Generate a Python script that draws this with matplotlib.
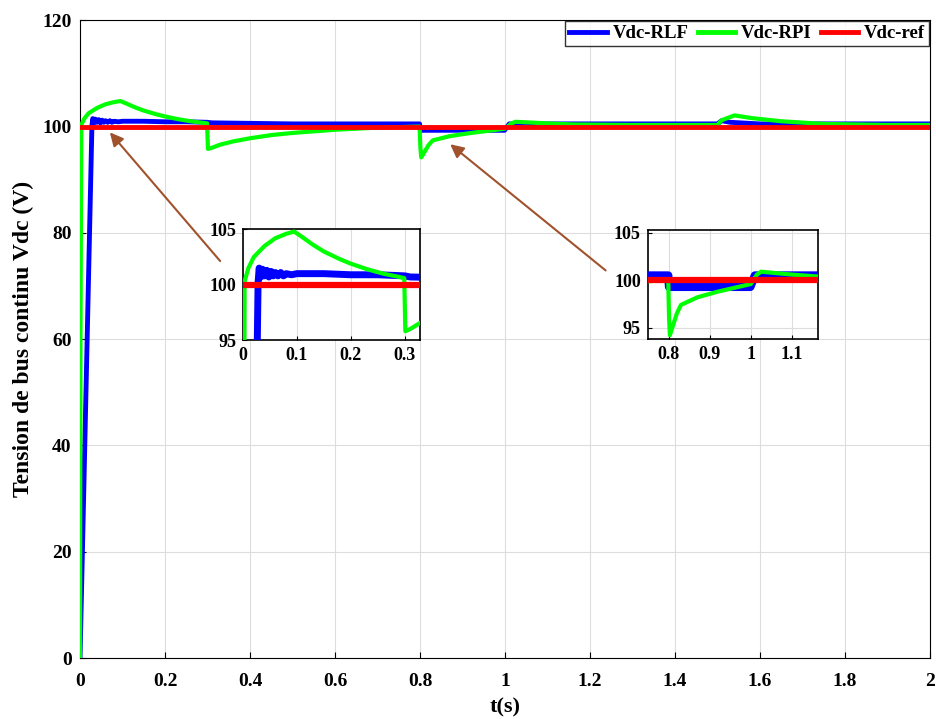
import numpy as np
import matplotlib
matplotlib.use('Agg')
import matplotlib.pyplot as plt

plt.rcParams['font.family'] = ['Liberation Serif', 'DejaVu Serif']
plt.rcParams['font.weight'] = 'bold'

# Reference voltage
t_ref = [0, 2.0]
v_ref = [100, 100]

# Vdc with PI regulator (green)
t_rpi = [0, 0.001, 0.003, 0.01, 0.02, 0.04, 0.06, 0.08, 0.095, 0.11, 0.13, 0.15,
         0.18, 0.2, 0.23, 0.26, 0.29, 0.299, 0.301, 0.31, 0.33, 0.36, 0.4, 0.45,
         0.5, 0.6, 0.7, 0.799, 0.801, 0.803, 0.82, 0.83, 0.87, 0.92, 0.97, 1.0,
         1.015, 1.025, 1.05, 1.1, 1.16, 1.3, 1.5, 1.51, 1.54, 1.58, 1.65, 1.75,
         1.9, 2.0]
v_rpi = [0, 60, 100.3, 101.5, 102.5, 103.5, 104.2, 104.6, 104.8, 104.3, 103.6, 103.0,
         102.3, 101.9, 101.4, 101.0, 100.7, 100.6, 95.8, 96.0, 96.6, 97.2, 97.8, 98.4,
         98.8, 99.4, 99.8, 100.0, 96.0, 94.2, 96.5, 97.4, 98.2, 98.8, 99.3, 99.6,
         100.6, 100.9, 100.8, 100.6, 100.4, 100.3, 100.3, 101.2, 102.1, 101.6, 101.0, 100.5,
         100.3, 100.3]

# Vdc with RLF regulator (blue)
t_rlf = [0, 0.028, 0.03, 0.033, 0.036, 0.04, 0.044, 0.048, 0.052, 0.056, 0.06,
         0.065, 0.07, 0.075, 0.08, 0.09, 0.1, 0.12, 0.15, 0.2, 0.25, 0.3, 0.31,
         0.5, 0.799, 0.801, 0.9, 0.999, 1.01, 1.2, 1.5, 1.51, 1.53, 1.6, 2.0]
v_rlf = [0, 100.2, 101.5, 100.7, 101.4, 100.8, 101.3, 100.7, 101.2, 100.8, 101.1,
         100.8, 101.1, 100.8, 101.0, 100.9, 101.0, 101.0, 101.0, 100.9, 100.9, 100.8, 100.7,
         100.5, 100.5, 99.3, 99.3, 99.3, 100.5, 100.5, 100.5, 101.1, 100.8, 100.5, 100.5]

c_rlf = '#0000ff'
c_rpi = '#00ff00'
c_ref = '#ff0000'
arrow_col = '#a0522d'

fig = plt.figure(figsize=(9.36, 7.19), dpi=100)
ax = fig.add_axes([0.0855, 0.0848, 0.908, 0.887])

ax.plot(t_rlf, v_rlf, color=c_rlf, lw=3.5, label='Vdc-RLF', zorder=3)
ax.plot(t_rpi, v_rpi, color=c_rpi, lw=3.0, label='Vdc-RPI', zorder=4)
ax.plot(t_ref, v_ref, color=c_ref, lw=3.5, label='Vdc-ref', zorder=5)

ax.set_xlim(0, 2)
ax.set_ylim(0, 120)
ax.set_xticks(np.arange(0, 2.01, 0.2))
ax.set_xticklabels(['0', '0.2', '0.4', '0.6', '0.8', '1', '1.2', '1.4', '1.6', '1.8', '2'])
ax.set_yticks(np.arange(0, 121, 20))
ax.tick_params(labelsize=14, direction='in', length=4)
ax.tick_params(axis='x', pad=11)
ax.tick_params(axis='y', pad=6)
ax.grid(True, color='#dddddd', lw=0.8)
ax.set_axisbelow(True)
ax.set_xlabel('t(s)', fontsize=16, fontweight='bold', labelpad=5)
ax.set_ylabel('Tension de bus continu Vdc (V)', fontsize=17, fontweight='bold', labelpad=6)

leg = ax.legend(loc='upper right', ncol=3, fontsize=13.5, frameon=True, fancybox=False,
                borderaxespad=0.05, handlelength=2.0, columnspacing=0.5,
                handletextpad=0.3, borderpad=0.2)
leg.get_frame().set_edgecolor('black')
leg.get_frame().set_linewidth(1.0)
for lh in leg.get_lines():
    lh.set_linewidth(3.5)

# arrows towards the zoomed regions
ax.annotate('', xy=(0.066, 99.3), xytext=(0.334, 74.3),
            arrowprops=dict(arrowstyle='-|>', color=arrow_col, lw=1.5, mutation_scale=20))
ax.annotate('', xy=(0.866, 97.0), xytext=(1.242, 72.6),
            arrowprops=dict(arrowstyle='-|>', color=arrow_col, lw=1.5, mutation_scale=20))

# inset 1: start-up
ins1 = fig.add_axes([0.2596, 0.527, 0.189, 0.154])
ins1.plot(t_rlf, v_rlf, color=c_rlf, lw=5, zorder=3)
ins1.plot(t_rpi, v_rpi, color=c_rpi, lw=3, zorder=4)
ins1.plot(t_ref, v_ref, color=c_ref, lw=4.5, zorder=5)
ins1.set_xlim(0, 0.328)
ins1.set_ylim(95, 105)
ins1.set_xticks([0, 0.1, 0.2, 0.3])
ins1.set_xticklabels(['0', '0.1', '0.2', '0.3'])
ins1.set_yticks([95, 100, 105])

# inset 2: load change
ins2 = fig.add_axes([0.692, 0.5285, 0.1816, 0.1516])
ins2.plot(t_rlf, v_rlf, color=c_rlf, lw=6, zorder=3)
ins2.plot(t_rpi, v_rpi, color=c_rpi, lw=3, zorder=4)
ins2.plot(t_ref, v_ref, color=c_ref, lw=4.5, zorder=5)
ins2.set_xlim(0.749, 1.163)
ins2.set_ylim(93.8, 105.3)
ins2.set_xticks([0.8, 0.9, 1.0, 1.1])
ins2.set_xticklabels(['0.8', '0.9', '1', '1.1'])
ins2.set_yticks([95, 100, 105])

for a in (ins1, ins2):
    a.tick_params(labelsize=13, direction='in', length=3, pad=5)
    a.grid(True, color='#dddddd', lw=0.8)
    a.set_axisbelow(True)
    for s in a.spines.values():
        s.set_linewidth(1.2)

fig.savefig('out.png', dpi=100)
